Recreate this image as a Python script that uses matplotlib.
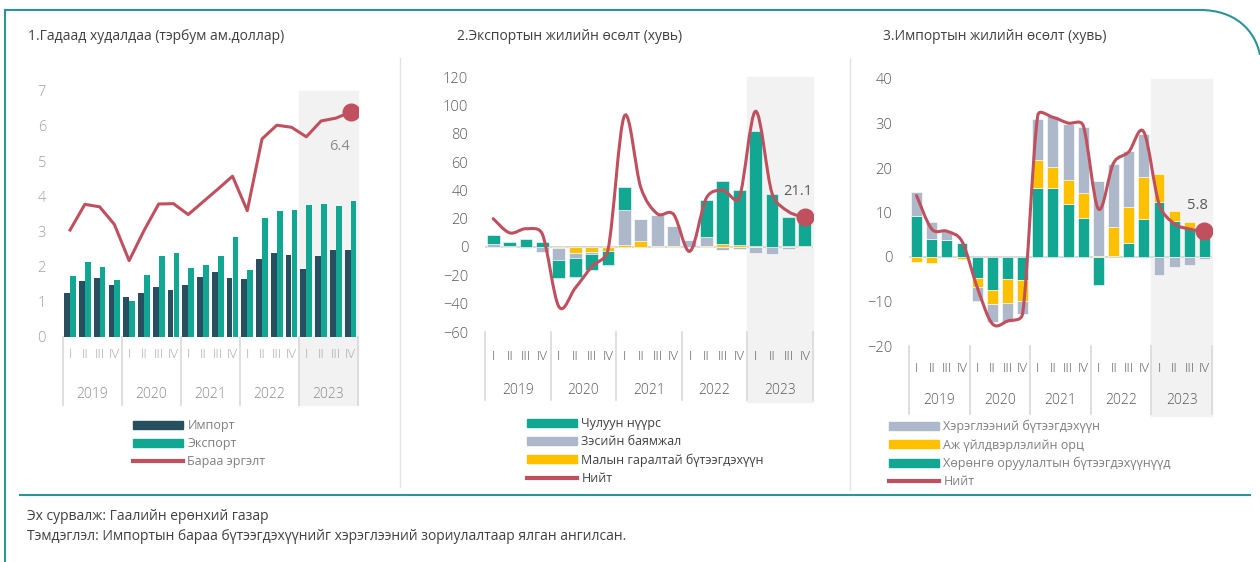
import numpy as np
import matplotlib
matplotlib.use('Agg')
import matplotlib.pyplot as plt
from matplotlib.path import Path
from matplotlib.patches import PathPatch, Patch
from matplotlib.lines import Line2D
import matplotlib.transforms as mtransforms

plt.rcParams['font.family'] = ['Open Sans', 'DejaVu Sans']

# ---- data ----
quarters = ['I', 'II', 'III', 'IV'] * 5
years = ['2019', '2020', '2021', '2022', '2023']

# 1. foreign trade, bn USD
trade_import = [1.25, 1.58, 1.68, 1.49, 1.13, 1.26, 1.43, 1.34, 1.49, 1.71, 1.84, 1.69,
                1.66, 2.23, 2.38, 2.32, 1.92, 2.31, 2.46, 2.47]
trade_export = [1.74, 2.13, 1.98, 1.63, 1.01, 1.76, 2.29, 2.40, 1.95, 2.06, 2.29, 2.84,
                1.89, 3.37, 3.59, 3.60, 3.74, 3.78, 3.71, 3.86]
trade_total = [3.04, 3.77, 3.70, 3.20, 2.17, 3.02, 3.78, 3.79, 3.48, 3.84, 4.20, 4.57,
               3.59, 5.63, 6.02, 5.96, 5.69, 6.14, 6.22, 6.39]

# 2. export growth contributions, %
exp_livestock = [0, 0, 0, 0, -1.0, -4.0, -3.3, -2.6, 1.6, 4.2, 1.0, 0.8,
                 0.3, 0.5, 1.9, 1.5, 0.5, 0.3, 0.5, 0.5]
exp_copper = [2.4, 0.5, -1.0, -3.3, -7.9, -3.7, -1.4, -0.3, 24.3, 15.8, 21.4, 14.0,
              4.5, 6.8, -2.0, -1.5, -4.2, -4.9, -1.5, -0.3]
exp_coal = [6.3, 3.0, 5.6, 3.8, -13.2, -13.7, -11.5, -9.6, 16.2, 0, 0, 0,
            0, 26.0, 45.0, 39.0, 81.4, 37.0, 21.0, 18.0]
exp_total = [20, 10, 12.9, 9, -42, -29, -14, -2, 92.5, 42, 23.5, 23,
             -3, 34.6, 40, 34.6, 95.8, 38, 25, 21.1]

# 3. import growth contributions, %
imp_capital = [9.3, 4.1, 3.8, 3.1, -4.8, -7.5, -4.9, -5.1, 15.6, 15.4, 11.9, 8.8,
               -6.3, 0.3, 3.2, 8.6, 12.4, 8.1, 6.5, 5.5]
imp_industrial = [-1.1, -1.4, 0, -0.5, -2.0, -3.1, -5.4, -4.8, 6.1, 4.8, 5.3, 5.6,
                  0.3, 6.5, 8.1, 9.3, 6.2, 2.2, 1.3, 0]
imp_consumer = [5.4, 3.7, 2.1, 0.3, -3.1, -4.0, -4.3, -3.0, 9.3, 11.4, 12.6, 14.8,
                16.7, 14.0, 12.5, 9.7, -4.1, -2.3, -1.9, -0.4]
imp_total = [13.8, 6.3, 5.8, 3.5, -6.8, -15.0, -14.4, -12.7, 31.8, 31.4, 30.1, 29.5,
             10.8, 21.1, 23.6, 28.1, 12.0, 7.5, 6.3, 5.8]

# ---- colours ----
c_dark = '#274F5F'
c_teal = '#12A792'
c_gray = '#ADB8CA'
c_yellow = '#FFC000'
c_red = '#C0505E'
c_shade = '#F2F2F2'
c_sep = '#D9D9D9'
c_frame = '#2A9498'

W, H = 1260, 562
fig = plt.figure(figsize=(W / 100, H / 100), dpi=100)


def px_axes(x0, y0, x1, y1):
    # pixel box (top-left origin) -> axes
    return fig.add_axes([x0 / W, 1 - y1 / H, (x1 - x0) / W, (y1 - y0) / H])


def smooth_line(ax, x, y, color, lw=2.2):
    # excel-style smoothed line: bezier in pixel space, tangents limited
    pts = ax.transData.transform(np.column_stack([x, y]))
    n = len(pts)
    verts = [pts[0]]
    codes = [Path.MOVETO]
    for i in range(n - 1):
        p0 = pts[i - 1] if i > 0 else pts[i]
        p1 = pts[i]
        p2 = pts[i + 1]
        p3 = pts[i + 2] if i + 2 < n else pts[i + 1]
        half = np.hypot(*(p2 - p1)) / 2
        t1 = (p2 - p0) / 6
        t2 = (p3 - p1) / 6
        for t in (t1, t2):
            L = np.hypot(*t)
            if L > half and L > 0:
                t *= half / L
        verts += [p1 + t1, p2 - t2, p2]
        codes += [Path.CURVE4] * 3
    verts = ax.transData.inverted().transform(np.array(verts))
    ax.add_patch(PathPatch(Path(verts, codes), fill=False, edgecolor=color,
                           lw=lw, capstyle='round', zorder=5))


def stack_bars(ax, x, series, colors, width):
    pos = np.zeros(len(x))
    neg = np.zeros(len(x))
    for vals, col in zip(series, colors):
        vals = np.asarray(vals, float)
        bottom = np.where(vals >= 0, pos, neg)
        ax.bar(x, vals, width, bottom=bottom, color=col, edgecolor='white',
               linewidth=0.4, zorder=3)
        pos = pos + np.where(vals >= 0, vals, 0)
        neg = neg + np.where(vals < 0, vals, 0)


def category_axis(ax, q_y, y_y, sep_bottom, tick_color, year_color):
    # two level category labels below the axes (offsets in axes fraction)
    trans = mtransforms.blended_transform_factory(ax.transData, ax.transAxes)
    for i, q in enumerate(quarters):
        ax.text(i, q_y, q, transform=trans, ha='center', va='center',
                fontsize=9.5, color=tick_color, fontweight='light', clip_on=False)
    for k, yr in enumerate(years):
        ax.text(4 * k + 1.5, y_y, yr, transform=trans, ha='center', va='center',
                fontsize=10, color=year_color, fontweight='light', clip_on=False)
    for b in np.arange(-0.5, 20, 4):
        ax.plot([b, b], [0, sep_bottom], transform=trans, color=c_sep, lw=1.2,
                clip_on=False, zorder=1)


def style_axes(ax, label_color):
    for s in ax.spines.values():
        s.set_visible(False)
    ax.tick_params(axis='y', length=0, labelsize=10.5, labelcolor=label_color, pad=12)
    ax.tick_params(axis='x', length=0, labelbottom=False)
    for t in ax.get_yticklabels():
        t.set_fontweight('light')
    ax.set_xlim(-0.5, 19.5)


x = np.arange(20)

# ---- panel 1 ----
ax1 = px_axes(62.7, 90.7, 358, 337)
style_axes(ax1, '#A0A0A0')
ax1.set_ylim(0, 7)
ax1.set_yticks(range(0, 8))
ax1.axvspan(15.5, 19.5, ymin=-68 / 246.3, ymax=1, color=c_shade, zorder=0, clip_on=False)
ax1.bar(x - 0.2, trade_import, 0.39, color=c_dark, zorder=3)
ax1.bar(x + 0.2, trade_export, 0.39, color=c_teal, zorder=3)
ax1.plot(x, trade_total, color=c_red, lw=2.2, zorder=5, solid_joinstyle='round')
ax1.plot(x[-1], trade_total[-1], 'o', ms=12, color=c_red, zorder=6)
ax1.annotate(f'{trade_total[-1]:.1f}', (x[-1], trade_total[-1]), xytext=(-8, -27),
             textcoords='offset points', ha='center', fontsize=10.5, color='#8C8C8C')
category_axis(ax1, -18 / 246.3, -58 / 246.3, -68 / 246.3, '#A6A6A6', '#8C8C8C')

# ---- panel 2 ----
ax2 = px_axes(485, 77, 813, 332)
style_axes(ax2, '#595959')
ax2.set_ylim(-60, 120)
ax2.set_yticks(range(-60, 121, 20))
ax2.axvspan(15.5, 19.5, ymin=-70 / 255, ymax=1, color=c_shade, zorder=0, clip_on=False)
ax2.axhline(0, color=c_sep, lw=1.5, zorder=2)
stack_bars(ax2, x, [exp_livestock, exp_copper, exp_coal], [c_yellow, c_gray, c_teal], 0.77)
smooth_line(ax2, x, exp_total, c_red)
ax2.plot(x[-1], exp_total[-1], 'o', ms=12, color=c_red, zorder=6)
ax2.annotate(f'{exp_total[-1]:.1f}', (x[-1], exp_total[-1]), xytext=(-5, 16),
             textcoords='offset points', ha='center', fontsize=10.5, color='#595959')
category_axis(ax2, -24 / 255, -58 / 255, -68 / 255, '#595959', '#595959')

# ---- panel 3 ----
ax3 = px_axes(909, 79, 1212, 346)
style_axes(ax3, '#595959')
ax3.set_ylim(-20, 40)
ax3.set_yticks(range(-20, 41, 10))
ax3.axvspan(15.5, 19.5, ymin=-70 / 267, ymax=1, color=c_shade, zorder=0, clip_on=False)
ax3.axhline(0, color=c_sep, lw=1.5, zorder=2)
stack_bars(ax3, x, [imp_capital, imp_industrial, imp_consumer], [c_teal, c_yellow, c_gray], 0.72)
smooth_line(ax3, x, imp_total, c_red)
ax3.plot(x[-1], imp_total[-1], 'o', ms=12, color=c_red, zorder=6)
ax3.annotate(f'{imp_total[-1]:.1f}', (x[-1], imp_total[-1]), xytext=(-5, 16),
             textcoords='offset points', ha='center', fontsize=10.5, color='#595959')
category_axis(ax3, -22 / 267, -54 / 267, -68 / 267, '#595959', '#595959')

# ---- legends ----
leg_kw = dict(frameon=False, loc='upper left', fontsize=9, handlelength=4.0,
              handleheight=0.6, handletextpad=0.35, labelspacing=0.42,
              labelcolor='#7F7F7F', borderaxespad=0, borderpad=0)
l1 = fig.legend([Patch(color=c_dark), Patch(color=c_teal), Line2D([], [], color=c_red, lw=3)],
                ['Импорт', 'Экспорт', 'Бараа эргэлт'],
                bbox_to_anchor=(133 / W, 1 - 419 / H), **leg_kw)
l2 = fig.legend([Patch(color=c_teal), Patch(color=c_gray), Patch(color=c_yellow),
                 Line2D([], [], color=c_red, lw=3)],
                ['Чулуун нүүрс', 'Зэсийн баямжал', 'Малын гаралтай бүтээгдэхүүн', 'Нийт'],
                bbox_to_anchor=(527 / W, 1 - 417 / H), **leg_kw)
for t in l2.get_texts():
    t.set_color('#404040')
l3 = fig.legend([Patch(color=c_gray), Patch(color=c_yellow), Patch(color=c_teal),
                 Line2D([], [], color=c_red, lw=3)],
                ['Хэрэглээний бүтээгдэхүүн', 'Аж үйлдвэрлэлийн орц',
                 'Хөрөнгө оруулалтын бүтээгдэхүүнүүд', 'Нийт'],
                bbox_to_anchor=(889 / W, 1 - 420 / H), **leg_kw)

# ---- titles and notes ----
def ftext(px, py, s, **kw):
    fig.text(px / W, 1 - py / H, s, va='center', ha='left', **kw)


ftext(28, 37, '1.Гадаад худалдаа (тэрбум ам.доллар)', fontsize=10, color='#404040')
ftext(457, 37, '2.Экспортын жилийн өсөлт (хувь)', fontsize=10, color='#404040')
ftext(883, 37, '3.Импортын жилийн өсөлт (хувь)', fontsize=10, color='#404040')
ftext(27, 517, 'Эх сурвалж: Гаалийн ерөнхий газар', fontsize=10, color='#404040')
ftext(27, 536, 'Тэмдэглэл: Импортын бараа бүтээгдэхүүнийг хэрэглээний зориулалтаар ялган ангилсан.',
      fontsize=10, color='#404040')

# ---- frame and separators (figure pixel coords) ----
def fline(xs, ys, **kw):
    fig.add_artist(Line2D([v / W for v in xs], [1 - v / H for v in ys], **kw))


fline([5, 5], [10, 562], color=c_frame, lw=1.5)
fline([5, 1200], [10, 10], color=c_frame, lw=1.5)
fline([20, 1250], [495, 495], color=c_frame, lw=1.5)
fline([400, 400], [58, 487], color='#E3E3E3', lw=1)
fline([850, 850], [58, 490], color='#E3E3E3', lw=1)
corner = Path([(1200 / W, 1 - 10 / H), (1235 / W, 1 - 10 / H), (1255 / W, 1 - 30 / H),
               (1260 / W, 1 - 55 / H)], [Path.MOVETO, Path.CURVE4, Path.CURVE4, Path.CURVE4])
fig.add_artist(PathPatch(corner, transform=fig.transFigure, fill=False,
                         edgecolor=c_frame, lw=1.5))

fig.savefig('out.png', dpi=100)
